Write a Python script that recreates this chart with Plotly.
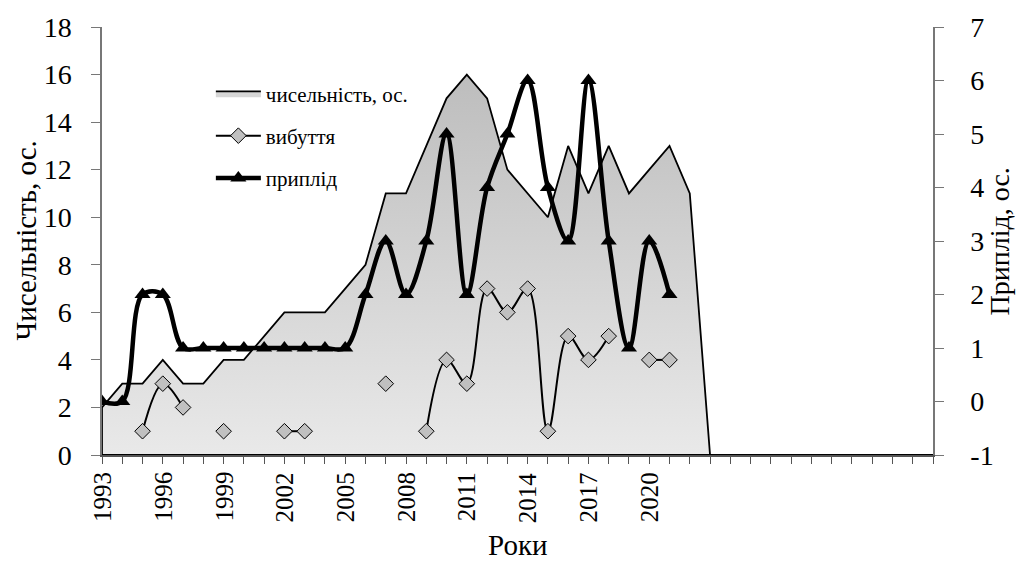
import plotly.graph_objects as go

years = list(range(1993, 2035))
numbers = [2, 3, 3, 4, 3, 3, 4, 4, 5, 6, 6, 6, 7, 8, 11, 11, 13, 15, 16, 15,
           12, 11, 10, 13, 11, 13, 11, 12, 13, 11] + [0] * 12
departures = [None, None, 1, 3, 2, None, 1, None, None, 1, 1, None, None, None, 3, None,
              1, 4, 3, 7, 6, 7, 1, 5, 4, 5, None, 4, 4]
births = [0, 0, 2, 2, 1, 1, 1, 1, 1, 1, 1, 1, 1, 2, 3, 2, 3, 5, 2, 4, 5, 6, 4, 3, 6, 3, 1, 3, 2]
label_years = list(range(1993, 2021, 3))
right_ticks = list(range(-1, 8))

FONT = "Liberation Serif, Times New Roman, serif"
NB = "\u00a0"

# closed outline for the area (Excel draws a border around the whole area shape)
area_x = [years[0]] + years + [years[0]]
area_y = [0] + numbers + [0]

fig = go.Figure()
fig.add_trace(go.Scatter(
    x=area_x, y=area_y, mode="lines", fill="toself",
    fillgradient=dict(type="vertical", colorscale=[[0, "#e9e9e9"], [1, "#bdbdbd"]]),
    line=dict(color="black", width=1.8),
    name="чисельність, ос.", showlegend=False, yaxis="y"))
# legend entry for the area (plain swatch)
fig.add_trace(go.Scatter(
    x=[None], y=[None], mode="lines", fill="toself", fillcolor="#d6d6d6",
    line=dict(color="black", width=1.8),
    name="чисельність, ос.", legendgroup="a", yaxis="y"))
fig.add_trace(go.Scatter(
    x=years[:len(departures)], y=departures, mode="lines+markers",
    line=dict(color="black", width=2, shape="spline", smoothing=1),
    marker=dict(symbol="diamond", size=12, color="#c0c0c0", line=dict(color="black", width=1)),
    connectgaps=False, name="вибуття", legendgroup="b", yaxis="y"))
fig.add_trace(go.Scatter(
    x=years[:len(births)], y=births, mode="lines+markers",
    line=dict(color="black", width=4.5, shape="spline", smoothing=1),
    marker=dict(symbol="triangle-up", size=14, color="black"),
    name="приплід", legendgroup="c", yaxis="y2"))

annotations = [
    dict(text=str(y), x=y, xref="x", y=0, yref="y", yshift=-15, textangle=-90,
         xanchor="center", yanchor="top", showarrow=False, font=dict(size=25, family=FONT))
    for y in label_years
]
annotations += [
    dict(text="Роки", xref="paper", yref="paper", x=0.5, y=-0.21,
         xanchor="center", yanchor="middle", showarrow=False, font=dict(size=29, family=FONT)),
    dict(text="Чисельність, ос.", textangle=-90, xref="paper", yref="paper",
         x=-0.092, y=0.5, xanchor="center", yanchor="middle", showarrow=False,
         font=dict(size=29, family=FONT)),
    dict(text="Приплід, ос.", textangle=-90, xref="paper", yref="paper",
         x=1.08, y=0.5, xanchor="center", yanchor="middle", showarrow=False,
         font=dict(size=28, family=FONT)),
]

fig.update_layout(
    width=1016, height=562,
    margin=dict(l=102, r=83, t=27, b=107, autoexpand=False),
    paper_bgcolor="white", plot_bgcolor="white",
    font=dict(family=FONT, size=24, color="black"),
    showlegend=True,
    legend=dict(x=0.131, y=0.892, xanchor="left", yanchor="top",
                bgcolor="rgba(0,0,0,0)", font=dict(size=21, family=FONT),
                traceorder="grouped", tracegroupgap=12, itemwidth=45),
    xaxis=dict(range=[years[0], years[-1]], tickmode="array", tickvals=years,
               showticklabels=False,
               ticks="outside", ticklen=7, tickcolor="#555555",
               showline=True, linecolor="#555555", linewidth=1.5, showgrid=False, zeroline=False),
    yaxis=dict(range=[0, 18], dtick=2, ticks="outside", ticklen=9, tickcolor="#777777",
               showline=True, linecolor="#777777", linewidth=1.5, showgrid=False, zeroline=False,
               tickfont=dict(size=28, family=FONT), ticksuffix=NB * 2),
    yaxis2=dict(range=[right_ticks[0], right_ticks[-1]], tickmode="array", tickvals=right_ticks,
                ticktext=[NB * 3 + str(v) for v in right_ticks],
                overlaying="y", side="right", anchor="x",
                ticks="outside", ticklen=9, tickcolor="#777777",
                showline=True, linecolor="#777777", linewidth=1.5, showgrid=False, zeroline=False,
                tickfont=dict(size=28, family=FONT)),
    yaxis3=dict(range=[right_ticks[0], right_ticks[-1]], dtick=1, overlaying="y", side="right",
                anchor="x", ticks="inside", ticklen=9, tickcolor="#777777", showticklabels=False,
                showline=False, showgrid=False, zeroline=False),
    annotations=annotations,
)

fig.write_html("out.html", config={"displayModeBar": False},
               post_script="document.body.style.margin='0px';document.body.style.padding='0px';")
